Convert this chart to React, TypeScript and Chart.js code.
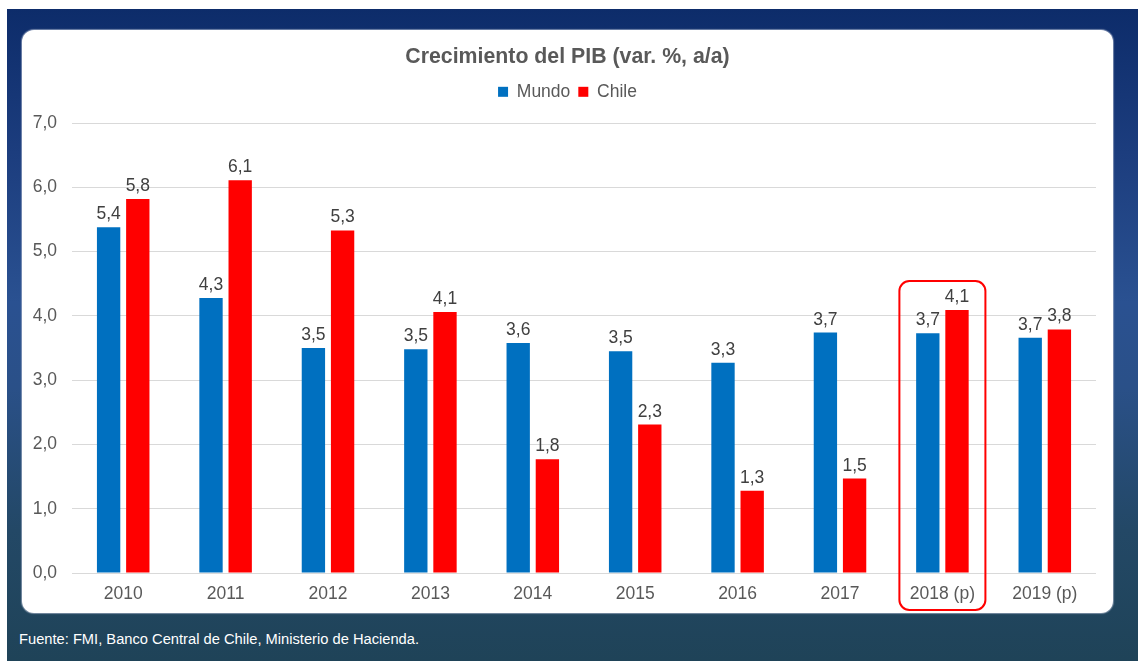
import React, { useEffect, useRef } from "react";
import { Chart, registerables } from "chart.js";

Chart.register(...registerables);

const categories = ["2010", "2011", "2012", "2013", "2014", "2015", "2016", "2017", "2018 (p)", "2019 (p)"];
const mundo = [5.38, 4.28, 3.5, 3.48, 3.58, 3.45, 3.27, 3.74, 3.73, 3.66];
const chile = [5.82, 6.11, 5.33, 4.06, 1.77, 2.31, 1.28, 1.47, 4.09, 3.79];
const highlightIndex = 8;
const titleText = "Crecimiento del PIB (var. %, a/a)";
const sourceText = "Fuente: FMI, Banco Central de Chile, Ministerio de Hacienda.";

const FONT = "'Liberation Sans', Arial, sans-serif";

const fmt = (v: number) => (Math.round(v * 10) / 10).toFixed(1).replace(".", ",");

const dataLabels = {
  id: "dataLabels",
  afterDatasetsDraw(chart: any) {
    const ctx = chart.ctx;
    ctx.save();
    ctx.font = `17.5px ${FONT}`;
    ctx.fillStyle = "#404040";
    ctx.textAlign = "center";
    ctx.textBaseline = "bottom";
    chart.data.datasets.forEach((ds: any, i: number) => {
      const meta = chart.getDatasetMeta(i);
      meta.data.forEach((bar: any, j: number) => {
        ctx.fillText(fmt(ds.data[j]), bar.x, bar.y - 4);
      });
    });
    ctx.restore();
  },
};

const highlightBox = {
  id: "highlightBox",
  afterDatasetsDraw(chart: any) {
    const xs = chart.scales.x;
    const ys = chart.scales.y;
    const cx = xs.getPixelForValue(highlightIndex);
    const catW = xs.width / categories.length;
    const half = catW * 0.42;
    const maxV = Math.max(mundo[highlightIndex], chile[highlightIndex]);
    const top = ys.getPixelForValue(maxV) - 29;
    const bottom = chart.chartArea.bottom + 37;
    const ctx = chart.ctx;
    ctx.save();
    ctx.strokeStyle = "#ff0000";
    ctx.lineWidth = 2;
    ctx.beginPath();
    ctx.roundRect(cx - half, top, half * 2, bottom - top, 10);
    ctx.stroke();
    ctx.restore();
  },
};

const legendHeight = {
  id: "legendHeight",
  beforeInit(chart: any) {
    const orig = chart.legend.fit;
    chart.legend.fit = function () {
      orig.call(this);
      this.height = 48;
    };
  },
};

export default function App() {
  const ref = useRef<HTMLCanvasElement | null>(null);

  useEffect(() => {
    if (!ref.current) return;
    const chart = new Chart(ref.current, {
      type: "bar",
      data: {
        labels: categories,
        datasets: [
          { label: "Mundo", data: mundo, backgroundColor: "#0070c0", barPercentage: 0.8, categoryPercentage: 0.57 },
          { label: "Chile", data: chile, backgroundColor: "#ff0000", barPercentage: 0.8, categoryPercentage: 0.57 },
        ],
      },
      options: {
        animation: false,
        responsive: false,
        maintainAspectRatio: false,
        layout: { padding: 0 },
        plugins: {
          title: {
            display: true,
            text: titleText,
            color: "#595959",
            font: { family: FONT, size: 21.3, weight: "bold" },
            padding: { top: 14, bottom: 5.5 },
          },
          legend: {
            display: true,
            position: "top",
            labels: {
              boxWidth: 10,
              boxHeight: 10,
              color: "#595959",
              font: { family: FONT, size: 17.5 },
              padding: 8,
            },
          },
          tooltip: { enabled: false },
        },
        scales: {
          x: {
            grid: { display: false, drawTicks: false },
            border: { display: false },
            ticks: { color: "#595959", font: { family: FONT, size: 17.5 }, padding: 11 },
            afterFit(scale: any) {
              scale.height = 40;
            },
          },
          y: {
            min: 0,
            max: 7,
            ticks: {
              stepSize: 1,
              color: "#595959",
              font: { family: FONT, size: 17.5 },
              padding: 15,
              callback: (v: any) => Number(v).toFixed(1).replace(".", ","),
            },
            grid: { color: "#d9d9d9", drawTicks: false },
            border: { display: false },
            afterFit(scale: any) {
              scale.width = 50;
            },
          },
          yRight: {
            type: "linear",
            position: "right",
            min: 0,
            max: 7,
            grid: { display: false, drawTicks: false },
            border: { display: false },
            ticks: { display: false },
            afterFit(scale: any) {
              scale.width = 17;
            },
          },
        },
      },
      plugins: [dataLabels, highlightBox, legendHeight],
    });
    return () => chart.destroy();
  }, []);

  return (
    <div
      style={{
        position: "absolute",
        left: 7,
        top: 9,
        width: 1131,
        height: 652,
        background:
          "linear-gradient(to bottom, #0d2c6a 0%, #1c3d7e 22%, #2a5191 45%, #2a5088 58%, #234866 80%, #1f4358 100%)",
        overflow: "hidden",
      }}
    >
      <div
        style={{
          position: "absolute",
          left: 15,
          top: 21,
          width: 1091,
          height: 583,
          background: "#ffffff",
          borderRadius: 12,
          boxShadow: "0 0 1px 1px rgba(180,190,210,0.6)",
          overflow: "hidden",
        }}
      >
        <canvas ref={ref} width={1091} height={583} style={{ display: "block" }} />
      </div>
      <div
        style={{
          position: "absolute",
          left: 12,
          top: 621,
          color: "#ffffff",
          fontFamily: FONT,
          fontSize: 14.7,
          lineHeight: "18px",
          whiteSpace: "nowrap",
        }}
      >
        {sourceText}
      </div>
    </div>
  );
}
